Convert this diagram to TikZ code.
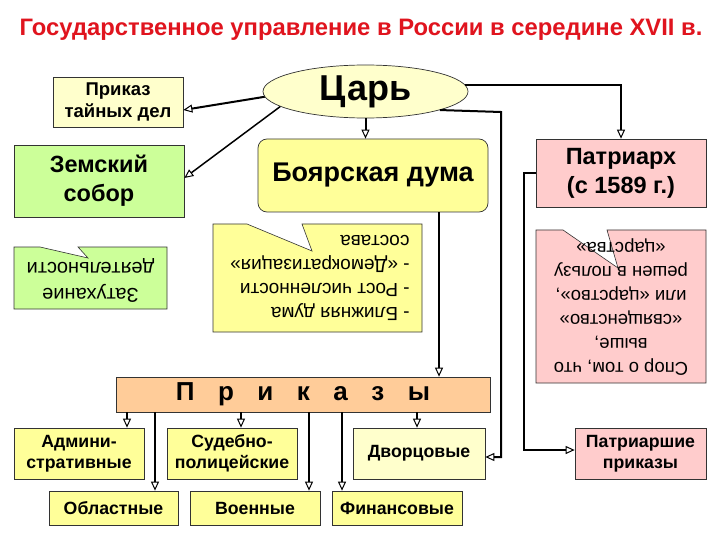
\documentclass[tikz,border=0pt]{standalone}
\usepackage{fontspec}
\setmainfont{Liberation Sans}
\usetikzlibrary{shapes.geometric,arrows.meta,calc}
\definecolor{yel}{HTML}{FFFF99}
\definecolor{cream}{HTML}{FFFFCC}
\definecolor{grn}{HTML}{CCFF99}
\definecolor{pnk}{HTML}{FFCCCC}
\definecolor{org}{HTML}{FFCC99}
\definecolor{ttl}{HTML}{E0141E}
\begin{document}
\begin{tikzpicture}[x=1pt,y=-1pt,
  box/.style={draw=black!80, line width=0.7pt, inner sep=0pt, align=center, font=\bfseries\fontsize{17.7}{21}\selectfont},
  big/.style={font=\bfseries\fontsize{23.5}{29}\selectfont},
  callout/.style={draw=black!80, line width=0.6pt},
  ctext/.style={rotate=180, inner sep=0pt, font=\fontsize{19}{24}\selectfont},
  conn/.style={line width=2pt, black},
  arr/.style={conn, -{Triangle[open,length=9pt,width=8pt,line width=1pt]}},
]
\fill[white] (0,0) rectangle (720,540);
\useasboundingbox (0,0) rectangle (720,540);

\node[text=ttl, font=\bfseries\fontsize{23.8}{28}\selectfont] (title) at (361,30) {Государственное управление в России в середине XVII в.};

\node[box, shape=ellipse, fill=cream, minimum width=205, minimum height=53, font=\bfseries\fontsize{36}{40}\selectfont] (tsar) at (365.5,91.5) {\raisebox{-3pt}{Царь}};
\node[box, fill=cream, minimum width=130, minimum height=50, font=\bfseries\fontsize{18.5}{22}\selectfont] (tainye) at (118,102) {Приказ\\тайных дел};
\node[box, big, fill=grn, minimum width=170, minimum height=72] (zemsky) at (99,181) {Земский\\собор};
\node[box, fill=yel, rounded corners=9, minimum width=230, minimum height=73, font=\bfseries\fontsize{27}{31}\selectfont] (boyar) at (373,175.5) {Боярская дума};
\node[box, big, fill=pnk, minimum width=170, minimum height=68] (patr) at (621,173) {Патриарх\\(с 1589 г.)};

\node[box, fill=org, minimum width=374, minimum height=35, font=\bfseries\fontsize{26}{30}\selectfont] (prik) at (303,394.5) {П\hspace{23.5pt}р\hspace{23.5pt}и\hspace{23.5pt}к\hspace{23.5pt}а\hspace{23.5pt}з\hspace{23.5pt}ы};
\node[box, fill=yel, minimum width=130, minimum height=51] (adm) at (79,453.5) {Админи-\\стративные};
\node[box, fill=yel, minimum width=130, minimum height=51] (sud) at (232,453.5) {Судебно-\\полицейские};
\node[box, fill=cream, minimum width=132, minimum height=51] (dvor) at (419,453.5) {Дворцовые};
\node[box, fill=yel, minimum width=129, minimum height=34] (obl) at (113.5,508) {Областные};
\node[box, fill=yel, minimum width=130, minimum height=34] (voen) at (255,508) {Военные};
\node[box, fill=yel, minimum width=130, minimum height=34] (fin) at (397,508) {Финансовые};
\node[box, fill=pnk, minimum width=131, minimum height=51] (patrpr) at (640.5,453.5) {Патриаршие\\приказы};

% callouts
\filldraw[callout, fill=grn] (14,247) -- (40,247) -- (88,258) -- (78,247) -- (167,247) -- (167,309) -- (14,309) -- cycle;
\node[ctext, align=center, font=\fontsize{20}{26}\selectfont] (zc) at (90.5,280) {Затухание\\деятельности};
\filldraw[callout, fill=yel] (213,224) -- (247,224) -- (312,251) -- (302,224) -- (422,224) -- (422,332) -- (213,332) -- cycle;
\node[ctext, align=left] (bc) at (320,278) {- Ближняя дума\\- Рост численности\\- «Демократизация»\\состава};
\filldraw[callout, fill=pnk] (536,230) -- (563,230) -- (618,268) -- (607,230) -- (706,230) -- (706,383) -- (536,383) -- cycle;
\node[ctext, align=center, font=\fontsize{18.5}{24}\selectfont] (pc) at (621,307) {Спор о том, что\\выше,\\«священство»\\или «царство»,\\решен в пользу\\«царства»};

% connectors
\draw[arr] (tsar.183) -- ([yshift=-8pt]tainye.east);
\draw[arr, line width=1.5pt] (tsar.190) -- ([yshift=3pt]zemsky.east);
\draw[arr] (tsar.south) -- (boyar.north -| tsar.south);
\draw[arr] (tsar.4) -| (patr.north);
\coordinate (k1) at (501,112);
\coordinate (k2) at (501,457);
\draw[arr] (tsar.-14) -- (k1) -- (k2) -- (k2 -| dvor.east);
\coordinate (bd) at (439,0);
\draw[arr] (boyar.south -| bd) -- (prik.north -| bd);
\coordinate (pp) at (524,450);
\draw[arr] (patr.west) -| (pp) -- (pp -| patrpr.west);

\coordinate (c1) at (127,0);
\coordinate (c2) at (155,0);
\coordinate (c3) at (241,0);
\coordinate (c4) at (309,0);
\coordinate (c5) at (342,0);
\coordinate (c6) at (417,0);
\draw[arr] (prik.south -| c1) -- (adm.north -| c1);
\draw[arr] (prik.south -| c2) -- (obl.north -| c2);
\draw[arr] (prik.south -| c3) -- (sud.north -| c3);
\draw[arr] (prik.south -| c4) -- (voen.north -| c4);
\draw[arr] (prik.south -| c5) -- (fin.north -| c5);
\draw[arr] (prik.south -| c6) -- (dvor.north -| c6);
\end{tikzpicture}
\end{document}
